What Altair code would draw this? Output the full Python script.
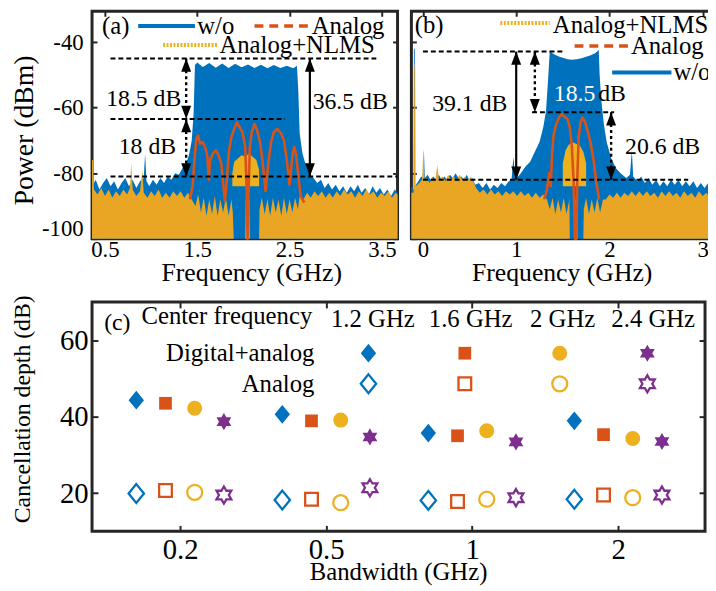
import json
import math
import altair as alt
import pandas as pd

FONT = "Liberation Serif"
BLUE = "#0072BD"
RED = "#D95319"
ORANGE = "#EDB120"
PURPLE = "#7E2F8E"
FLOOR = "#E9A625"
FRAME = "#262626"

# ---------------- Panel (a): spectra (GHz, dBm) ----------------
A_WO = [(0.36,-84),(0.40,-82),(0.44,-85),(0.48,-83),(0.52,-81.5),(0.56,-84),(0.60,-82.5),(0.64,-85),
        (0.68,-83),(0.72,-81.5),(0.76,-84),(0.80,-82),(0.84,-84.5),(0.88,-82.5),(0.92,-81.5),(0.935,-74),
        (0.95,-82.5),(0.98,-84),(1.02,-82),(1.06,-83.5),(1.10,-81.5),(1.14,-83),(1.18,-81),(1.22,-82),
        (1.26,-80),(1.30,-80.5),(1.34,-78.5),(1.38,-77),(1.41,-74.5),(1.44,-70),(1.46,-62),(1.475,-47),
        (1.50,-46.2),(1.56,-47.6),(1.63,-46.4),(1.70,-47.8),(1.77,-46.5),(1.84,-47.9),(1.91,-46.6),
        (1.98,-47.7),(2.05,-46.8),(2.12,-47.9),(2.19,-46.9),(2.26,-48),(2.33,-47),(2.40,-47.9),
        (2.47,-47.2),(2.54,-48),(2.58,-47.2),(2.595,-55),(2.61,-68),(2.64,-74),(2.68,-78),(2.72,-80.5),
        (2.76,-81.5),(2.80,-83),(2.84,-82),(2.88,-84.5),(2.92,-83),(2.96,-85),(3.00,-83.5),(3.04,-85.5),
        (3.08,-84),(3.12,-86),(3.16,-84),(3.20,-85.5),(3.24,-83.5),(3.28,-86),(3.32,-84.5),(3.36,-86.5),
        (3.40,-84),(3.44,-86),(3.48,-84.5),(3.52,-86.5),(3.56,-85),(3.60,-87),(3.64,-85),(3.67,-86)]
A_AN = [(1.42,-88),(1.45,-84),(1.47,-76),(1.49,-69.5),(1.51,-68.5),(1.53,-71),(1.56,-70.5),(1.59,-72.5),
        (1.61,-75),(1.625,-82),(1.64,-76),(1.67,-74),(1.70,-73),(1.73,-74.5),(1.76,-77),(1.78,-83),
        (1.80,-88.5),(1.82,-82),(1.845,-73),(1.87,-69),(1.90,-66.5),(1.93,-64.5),(1.96,-66),(1.99,-67.5),
        (2.02,-72),(2.035,-85),(2.045,-100),(2.055,-86),(2.07,-72),(2.09,-67.5),(2.12,-65),(2.15,-67),
        (2.18,-70.5),(2.21,-77),(2.24,-85.5),(2.27,-77),(2.30,-70.5),(2.33,-67.5),(2.37,-66.5),(2.41,-68),
        (2.44,-70),(2.47,-76),(2.50,-83.5),(2.53,-75),(2.55,-72),(2.57,-74),(2.60,-82),(2.62,-87),(2.66,-89)]
A_NL = [(0.36,-76),(0.37,-76),(0.38,-85),(0.42,-86.5),(0.46,-84.5),(0.50,-87),(0.54,-85),(0.58,-87.5),
        (0.62,-85.5),(0.66,-87),(0.70,-85),(0.74,-86.5),(0.77,-84.5),(0.785,-77),(0.80,-85),(0.84,-87),
        (0.88,-85.5),(0.905,-79),(0.92,-86),(0.96,-87.5),(1.00,-85.5),(1.04,-87),(1.08,-85),(1.12,-87.5),
        (1.16,-86),(1.20,-87.5),(1.24,-85.5),(1.28,-87),(1.32,-85.5),(1.36,-87.5),(1.40,-86),(1.44,-88),
        (1.48,-90),(1.51,-86.5),(1.54,-92),(1.57,-87.5),(1.60,-93),(1.63,-88),(1.66,-92.5),(1.69,-87),
        (1.72,-93),(1.75,-88),(1.78,-92),(1.81,-87.5),(1.84,-93),(1.87,-88),(1.885,-92),(1.895,-100),
        (2.02,-100),(2.025,-88),(2.065,-88),(2.07,-100),(2.17,-100),(2.175,-91),(2.20,-87.5),(2.23,-92.5),
        (2.26,-88),(2.29,-93),(2.32,-87.5),(2.35,-92),(2.38,-88),(2.41,-93),(2.44,-87.5),(2.47,-92.5),
        (2.50,-88),(2.53,-92),(2.56,-87.5),(2.59,-91),(2.61,-87),(2.65,-88),(2.69,-86),(2.73,-87.5),
        (2.77,-85.5),(2.81,-87),(2.85,-85.5),(2.89,-87.5),(2.93,-86),(2.97,-87.5),(3.01,-85.5),(3.05,-87),
        (3.09,-85),(3.13,-86.5),(3.17,-85.5),(3.21,-87.5),(3.25,-85.5),(3.29,-87),(3.33,-85),(3.37,-86.5),
        (3.41,-85.5),(3.45,-87.5),(3.49,-86),(3.53,-87),(3.57,-85.5),(3.61,-87.5),(3.65,-86),(3.67,-86.5)]
A_NL_BUMP = [(1.88,-84,-80),(1.90,-84,-76.5),(1.94,-84,-75.5),(1.98,-84,-74.5),(2.02,-84,-75),
             (2.06,-84,-74),(2.10,-84,-75),(2.14,-84,-76),(2.17,-84,-79)]

A_LEVELS = [(-45,0.56,3.44),(-63.5,0.56,2.45),(-81,0.56,3.67)]
A_ARROWS = [(1.38,-45,-63.5,"dot"),(1.38,-63.5,-81,"dot"),(2.72,-45,-81,"solid")]
A_NOTES = [("18.5 dB",0.92,-57.4,"center","black",24),("18 dB",0.96,-71.9,"center","black",24),
           ("36.5 dB",2.75,-58.4,"left","black",24)]
A_KEY_LINES = [("wo",0.86,1.475,-35.1),("an",2.12,2.72,-35.1),("nl",1.13,1.72,-40.9)]
A_KEY_TEXT = [("(a)",0.617,-35.1,"center","black",25),("w/o",1.50,-35.1,"left","black",25),
              ("Analog",2.74,-35.1,"left","black",25),("Analog+NLMS",1.74,-40.9,"left","black",25)]

# ---------------- Panel (b): spectra (GHz, dBm) ----------------
B_WO = [(-0.124,-84),(-0.10,-85),(-0.097,-42),(-0.088,-42),(-0.085,-84),(-0.05,-82.5),(-0.02,-81),
        (0.0,-81.5),(0.01,-73),(0.02,-81.5),(0.05,-80.5),(0.08,-82),(0.11,-81),(0.14,-82),(0.17,-80.5),
        (0.20,-82),(0.23,-81),(0.26,-82),(0.29,-80.5),(0.32,-81.5),(0.35,-80),(0.38,-81.5),(0.41,-81),
        (0.44,-82),(0.47,-80.5),(0.50,-82.5),(0.53,-81.5),(0.56,-83.5),(0.60,-83),(0.64,-84.5),(0.68,-83),
        (0.72,-85),(0.76,-83.5),(0.80,-84.5),(0.84,-83),(0.88,-84),(0.92,-82.5),(0.95,-82),(0.97,-75),
        (0.99,-81.5),(1.02,-81),(1.05,-80),(1.10,-78),(1.15,-76.5),(1.20,-73.5),(1.25,-70.5),(1.29,-66),
        (1.32,-61),(1.345,-50),(1.36,-42.8),(1.40,-43.6),(1.45,-44.3),(1.50,-44.8),(1.55,-45.2),(1.60,-45.4),
        (1.65,-45.2),(1.70,-44.9),(1.75,-44.5),(1.80,-44),(1.85,-43.3),(1.885,-42.4),(1.895,-50),(1.91,-57),
        (1.94,-65),(1.97,-70.5),(2.02,-75.5),(2.07,-78.5),(2.12,-80),(2.18,-81.5),(2.22,-80.5),(2.24,-73),
        (2.255,-81),(2.30,-82.5),(2.34,-81),(2.38,-83),(2.42,-81.5),(2.46,-83.5),(2.50,-82),(2.54,-84),
        (2.58,-82.5),(2.62,-84),(2.66,-82),(2.70,-83.5),(2.74,-82),(2.78,-84),(2.82,-82.5),(2.86,-84),
        (2.90,-82.5),(2.94,-84.5),(2.98,-83),(3.02,-84.5),(3.06,-83),(3.10,-84.5),(3.14,-83),(3.18,-85),
        (3.22,-83.5),(3.27,-84.5)]
B_AN = [(1.30,-88),(1.33,-85),(1.355,-80),(1.37,-84),(1.385,-74),(1.40,-68.5),(1.43,-65),(1.46,-63),
        (1.49,-62),(1.52,-62.8),(1.55,-63.5),(1.575,-66),(1.595,-71),(1.615,-82),(1.63,-100),(1.645,-100),
        (1.655,-82),(1.67,-69),(1.69,-64.5),(1.71,-63),(1.74,-64.5),(1.77,-67.5),(1.80,-71),(1.83,-76),
        (1.86,-83),(1.89,-88)]
B_NL = [(-0.124,-86),(-0.10,-86),(-0.092,-47),(-0.083,-47),(-0.078,-84),(-0.04,-83),(-0.01,-82),
        (0.005,-72.5),(0.015,-82),(0.04,-81.5),(0.07,-83),(0.10,-81.5),(0.13,-82.5),(0.155,-77.5),
        (0.17,-82),(0.21,-81),(0.24,-82.5),(0.27,-80.5),(0.30,-82),(0.33,-81),(0.36,-82.5),(0.39,-80.5),
        (0.42,-82),(0.45,-81),(0.48,-82.5),(0.51,-81),(0.54,-82.5),(0.57,-84.5),(0.61,-86),(0.65,-85),
        (0.69,-86.5),(0.73,-85),(0.77,-86.5),(0.81,-85.5),(0.85,-87),(0.89,-85.5),(0.93,-86.5),(0.97,-85.5),
        (1.01,-87),(1.05,-85.5),(1.09,-87),(1.13,-86),(1.17,-87.5),(1.21,-86),(1.25,-87.5),(1.29,-86.5),
        (1.33,-88),(1.36,-91),(1.39,-87.5),(1.42,-92.5),(1.45,-88),(1.48,-92),(1.51,-87.5),(1.54,-92.5),
        (1.57,-88),(1.575,-100),(1.63,-100),(1.635,-88),(1.655,-88),(1.66,-100),(1.72,-100),(1.725,-91),
        (1.75,-87.5),(1.78,-92.5),(1.81,-88),(1.84,-92),(1.87,-87.5),(1.90,-92),(1.93,-88),(1.96,-88),
        (2.00,-86.5),(2.04,-87.5),(2.08,-86),(2.12,-87.5),(2.16,-86),(2.20,-87),(2.24,-85.5),(2.28,-87),
        (2.32,-85.5),(2.36,-87),(2.40,-85.5),(2.44,-87),(2.48,-86),(2.52,-87.5),(2.56,-85.5),(2.60,-87),
        (2.64,-85.5),(2.68,-87),(2.72,-86),(2.76,-87.5),(2.80,-85.5),(2.84,-87),(2.88,-86),(2.92,-87.5),
        (2.96,-85.5),(3.00,-87),(3.04,-86),(3.08,-87.5),(3.12,-85.5),(3.16,-87),(3.20,-86),(3.27,-87)]
B_NL_BUMP = [(1.50,-84,-77),(1.53,-84,-73),(1.56,-84,-71.5),(1.60,-84,-70.5),(1.64,-84,-71),
             (1.68,-84,-71.5),(1.72,-84,-73.5),(1.75,-84,-77)]

B_LEVELS = [(-42.9,0.0,1.5),(-61.4,1.17,2.05),(-82,0.0,2.845)]
B_ARROWS = [(1.0,-42.9,-82,"solid"),(1.2,-42.9,-61.4,"dot"),(2.018,-61.4,-82,"dot")]
B_NOTES = [("39.1 dB",0.502,-58.9,"center","black",24),("18.5",1.626,-56,"center","white",24),
           ("dB",1.88,-56,"left","black",24),("20.6 dB",2.57,-71.9,"center","black",24)]
B_KEY_LINES = [("nl",0.83,1.36,-34.2),("an",1.626,2.209,-41.2),("wo",2.029,2.665,-49.3)]
B_KEY_TEXT = [("(b)",0.067,-34.7,"center","black",25),("Analog+NLMS",1.393,-34.7,"left","black",25),
              ("Analog",2.23,-41.2,"left","black",25),("w/o",2.686,-49.3,"left","black",25)]

# ---------------- Panel (c): cancellation depth ----------------
BANDWIDTHS = ["0.2", "0.5", "1", "2"]
CENTER_FREQS = ["1.2 GHz", "1.6 GHz", "2 GHz", "2.4 GHz"]
DIGITAL_ANALOG = [[44.3, 40.6, 35.7, 38.9],
                  [43.5, 38.9, 35.0, 35.3],
                  [42.2, 39.1, 36.3, 34.3],
                  [38.7, 34.7, 33.4, 33.5]]
ANALOG = [[19.9, 18.2, 18.1, 18.4],
          [20.7, 18.4, 17.8, 19.5],
          [20.2, 17.5, 18.4, 18.8],
          [19.5, 21.4, 18.8, 19.5]]
CF_OFFSETS = [-0.3, -0.1, 0.1, 0.3]
MARKER_SIZE = [360, 165, 230, 300]
KEY_X = [1.29, 1.95, 2.6, 3.2]
KEY_ROWS = [("Digital+analog", 56.6), ("Analog", 48.6)]
C_TEXT = [("Center frequency",0.905,66.2,"right","black",25),("Digital+analog",0.92,56.6,"right","black",25),
          ("Analog",0.92,48.6,"right","black",25),("(c)",-0.43,64.5,"center","black",24)] + \
         [(cf, x, 65.4, "center", "black", 25) for cf, x in zip(CENTER_FREQS, [1.32, 1.99, 2.62, 3.24])]

# ---------------- shapes ----------------
_star = []
for k in range(12):
    a = math.radians(-90 + 30 * k)
    r = 1.0 if k % 2 == 0 else 1 / math.sqrt(3)
    _star.append(f"{r*math.cos(a):.3f},{r*math.sin(a):.3f}")
STAR = "M" + "L".join(_star) + "Z"
DIAMOND = "M0,-1L0.82,0L0,1L-0.82,0Z"
HEAD_UP = "M0,0L-0.75,2L0.75,2Z"
HEAD_DOWN = "M0,0L-0.75,-2L0.75,-2Z"
KEY_STYLE = {"wo": (BLUE, [1, 0], 4), "an": (RED, [9, 6], 3.5), "nl": (ORANGE, [2, 1.5], 4)}

Y_DOM = [-100, -30.6]
H_AB = 230


def ax(**kw):
    d = dict(grid=False, domain=False, labelFlush=False, labelOverlap=False, tickColor=FRAME,
             tickWidth=2, labelFont=FONT, titleFont=FONT, labelColor="black", titleColor="black",
             titleFontWeight="normal")
    d.update(kw)
    return alt.Axis(**d)


def text_layers(rows, xs, ys, xf="f", yf="v"):
    df = pd.DataFrame(rows, columns=["t", xf, yf, "align", "color", "size"])
    out = []
    for (al, col, sz), g in df.groupby(["align", "color", "size"]):
        out.append(alt.Chart(g).mark_text(align=str(al), baseline="middle", font=FONT,
                                          fontSize=float(sz), color=str(col))
                   .encode(x=alt.X(f"{xf}:Q", scale=xs, axis=None),
                           y=alt.Y(f"{yf}:Q", scale=ys, axis=None), text="t:N"))
    return out


def spectrum_panel(xdom, width, wo, an, nl, bump, levels, arrows, notes, key_lines, key_text,
                   x_axis, y_axis, mirror_x, mirror_y):
    xs = alt.Scale(domain=xdom, nice=False, zero=False)
    ys = alt.Scale(domain=Y_DOM, nice=False, zero=False)

    def X(a=None):
        return alt.X("f:Q", scale=xs, axis=a)

    def Y(a=None):
        return alt.Y("v:Q", scale=ys, axis=a)

    d_wo = pd.DataFrame(wo, columns=["f", "v"]).assign(b=-100)
    d_nl = pd.DataFrame(nl, columns=["f", "v"]).assign(b=-100)
    d_an = pd.DataFrame(an, columns=["f", "v"])
    d_bump = pd.DataFrame(bump, columns=["f", "v2", "v"])
    d_lev = pd.DataFrame(levels, columns=["v", "f", "f2"])
    d_arr = pd.DataFrame(arrows, columns=["f", "v", "v2", "style"])
    d_up = pd.DataFrame([(f, v1) for f, v1, v2, s in arrows], columns=["f", "v"])
    d_dn = pd.DataFrame([(f, v2) for f, v1, v2, s in arrows], columns=["f", "v"])
    d_key = pd.DataFrame(key_lines, columns=["s", "f", "f2", "v"])

    layers = [
        alt.Chart(d_wo).mark_area(color=BLUE, opacity=1).encode(x=X(x_axis), y=Y(y_axis), y2="b:Q"),
        alt.Chart(d_nl).mark_area(color=FLOOR, opacity=1).encode(x=X(), y=Y(), y2="b:Q"),
        alt.Chart(d_bump).mark_area(color=ORANGE, opacity=1).encode(x=X(), y=Y(), y2="v2:Q"),
        alt.Chart(d_an).mark_line(color=RED, strokeWidth=2.6, strokeJoin="round").encode(x=X(), y=Y()),
        alt.Chart(d_lev).mark_rule(color="black", strokeWidth=2, strokeDash=[5, 3])
        .encode(x=X(mirror_x), x2="f2:Q", y=Y(mirror_y)),
        alt.Chart(d_arr[d_arr["style"] == "solid"]).mark_rule(color="black", strokeWidth=2.2)
        .encode(x=X(), y=Y(), y2="v2:Q"),
        alt.Chart(d_arr[d_arr["style"] == "dot"]).mark_rule(color="black", strokeWidth=2.4, strokeDash=[3, 3])
        .encode(x=X(), y=Y(), y2="v2:Q"),
        alt.Chart(d_up).mark_point(shape=HEAD_UP, filled=True, color="black", opacity=1, size=180)
        .encode(x=X(), y=Y()),
        alt.Chart(d_dn).mark_point(shape=HEAD_DOWN, filled=True, color="black", opacity=1, size=180)
        .encode(x=X(), y=Y()),
    ]
    for s, (col, dash, sw) in KEY_STYLE.items():
        layers.append(alt.Chart(d_key[d_key["s"] == s])
                      .mark_rule(color=col, strokeDash=dash, strokeWidth=sw, opacity=1)
                      .encode(x=X(), x2="f2:Q", y=Y()))
    layers += text_layers(notes, xs, ys)
    layers += text_layers(key_text, xs, ys)
    return alt.layer(*layers).resolve_axis(x="independent", y="independent").properties(
        width=width, height=H_AB)


y_ticks = [-40, -60, -80, -100]
neg_label = "'-' + format(abs(datum.value), 'd')"

panel_a = spectrum_panel(
    [0.36, 3.67], 309, A_WO, A_AN, A_NL, A_NL_BUMP, A_LEVELS, A_ARROWS, A_NOTES,
    A_KEY_LINES, A_KEY_TEXT,
    x_axis=ax(orient="bottom", values=[0.5, 1.5, 2.5, 3.5], format=".1f", labelFontSize=23,
              labelPadding=0, tickSize=5, offset=-5, title="Frequency (GHz)", titleFontSize=26,
              titleX=161, titleY=39, titleAlign="center", titleBaseline="middle", titleAngle=0),
    y_axis=ax(orient="left", values=y_ticks, labelExpr=neg_label, labelFontSize=23, labelPadding=9,
              tickSize=5, offset=-5,
              labelOffset={"condition": {"test": "datum.value == -100", "value": -10}, "value": 0},
              title="Power (dBm)", titleFontSize=28, titleX=-73, titleY=120, titleAngle=-90,
              titleAlign="center", titleBaseline="middle"),
    mirror_x=ax(orient="top", values=[0.5, 1.5, 2.5, 3.5], labels=False, tickSize=5, offset=-5, title=None),
    mirror_y=ax(orient="right", values=y_ticks, labels=False, tickSize=5, offset=-5, title=None),
)

panel_b = spectrum_panel(
    [-0.124, 3.269], 320, B_WO, B_AN, B_NL, B_NL_BUMP, B_LEVELS, B_ARROWS, B_NOTES,
    B_KEY_LINES, B_KEY_TEXT,
    x_axis=ax(orient="bottom", values=[0, 1, 2, 3], format="d", labelFontSize=23, labelPadding=0,
              tickSize=5, offset=-5, title="Frequency (GHz)", titleFontSize=26, titleX=152,
              titleY=39, titleAlign="center", titleBaseline="middle", titleAngle=0),
    y_axis=ax(orient="left", values=y_ticks, labels=False, tickSize=5, offset=-5, title=None),
    mirror_x=ax(orient="top", values=[0, 1, 2, 3], labels=False, tickSize=5, offset=-5, title=None),
    mirror_y=ax(orient="left", values=y_ticks, labels=False, tickSize=0, offset=0, title=None),
)

# ---------------- panel (c) ----------------
cx = alt.Scale(domain=[-0.603, 3.595], nice=False, zero=False)
cy = alt.Scale(domain=[10, 70], nice=False, zero=False)
pts = []
for j, cf in enumerate(CENTER_FREQS):
    for i, bw in enumerate(BANDWIDTHS):
        pts.append({"x": i + CF_OFFSETS[j], "cf": cf, "da": DIGITAL_ANALOG[j][i], "an": ANALOG[j][i],
                    "sz": MARKER_SIZE[j]})
d_pts = pd.DataFrame(pts)
key = []
for label, yv in KEY_ROWS:
    for j, cf in enumerate(CENTER_FREQS):
        key.append({"x": KEY_X[j], "cf": cf, "y": yv, "row": label, "sz": MARKER_SIZE[j]})
d_key = pd.DataFrame(key)

color_cf = alt.Color("cf:N", scale=alt.Scale(domain=CENTER_FREQS, range=[BLUE, RED, ORANGE, PURPLE]), legend=None)
shape_cf = alt.Shape("cf:N", scale=alt.Scale(domain=CENTER_FREQS, range=[DIAMOND, "square", "circle", STAR]), legend=None)
size_cf = alt.Size("sz:Q", scale=None, legend=None)

c_x_axis = ax(orient="bottom", values=[0, 1, 2, 3], labelExpr=json.dumps(BANDWIDTHS) + "[datum.value]",
              labelFontSize=29, labelPadding=4, tickSize=6, offset=-6, title="Bandwidth (GHz)",
              titleFontSize=25, titleX=309.5, titleY=47, titleAlign="center", titleBaseline="middle",
              titleAngle=0)
c_y_axis = ax(orient="left", values=[20, 40, 60], labelFontSize=29, labelPadding=4, tickSize=6, offset=-6,
              title="Cancellation depth (dB)", titleFontSize=24, titleX=-76, titleY=108, titleAngle=-90,
              titleAlign="center", titleBaseline="middle")
c_mx = ax(orient="top", values=[0, 1, 2, 3], labels=False, tickSize=6, offset=-6, title=None)
c_my = ax(orient="right", values=[20, 40, 60], labels=False, tickSize=6, offset=-6, title=None)

c_layers = [
    alt.Chart(d_pts).mark_point(filled=True, opacity=1)
    .encode(x=alt.X("x:Q", scale=cx, axis=c_x_axis), y=alt.Y("da:Q", scale=cy, axis=c_y_axis),
            color=color_cf, shape=shape_cf, size=size_cf),
    alt.Chart(d_pts).mark_point(filled=False, fill="white", fillOpacity=1, opacity=1, strokeWidth=2.3)
    .encode(x=alt.X("x:Q", scale=cx, axis=c_mx), y=alt.Y("an:Q", scale=cy, axis=c_my),
            color=color_cf, shape=shape_cf, size=size_cf),
    alt.Chart(d_key[d_key.row == "Digital+analog"]).mark_point(filled=True, opacity=1)
    .encode(x=alt.X("x:Q", scale=cx, axis=None), y=alt.Y("y:Q", scale=cy, axis=None),
            color=color_cf, shape=shape_cf, size=size_cf),
    alt.Chart(d_key[d_key.row == "Analog"]).mark_point(filled=False, fill="white", fillOpacity=1,
                                                        opacity=1, strokeWidth=2.3)
    .encode(x=alt.X("x:Q", scale=cx, axis=None), y=alt.Y("y:Q", scale=cy, axis=None),
            color=color_cf, shape=shape_cf, size=size_cf),
]
c_layers += text_layers(C_TEXT, cx, cy, xf="x", yf="y")
panel_c = alt.layer(*c_layers).resolve_axis(x="independent", y="independent").properties(width=620, height=232)

top = alt.hconcat(panel_a, panel_b, spacing=14, bounds="flush")
chart = alt.vconcat(top, panel_c, spacing=294, bounds="flush").properties(
    padding={"left": 85, "top": 0, "right": 623, "bottom": 583},
    autosize=alt.AutoSizeParams(type="none"),
    background="white",
).configure_view(stroke=FRAME, strokeWidth=3)

chart.save("out.html", embed_options={"renderer": "svg", "actions": False})
